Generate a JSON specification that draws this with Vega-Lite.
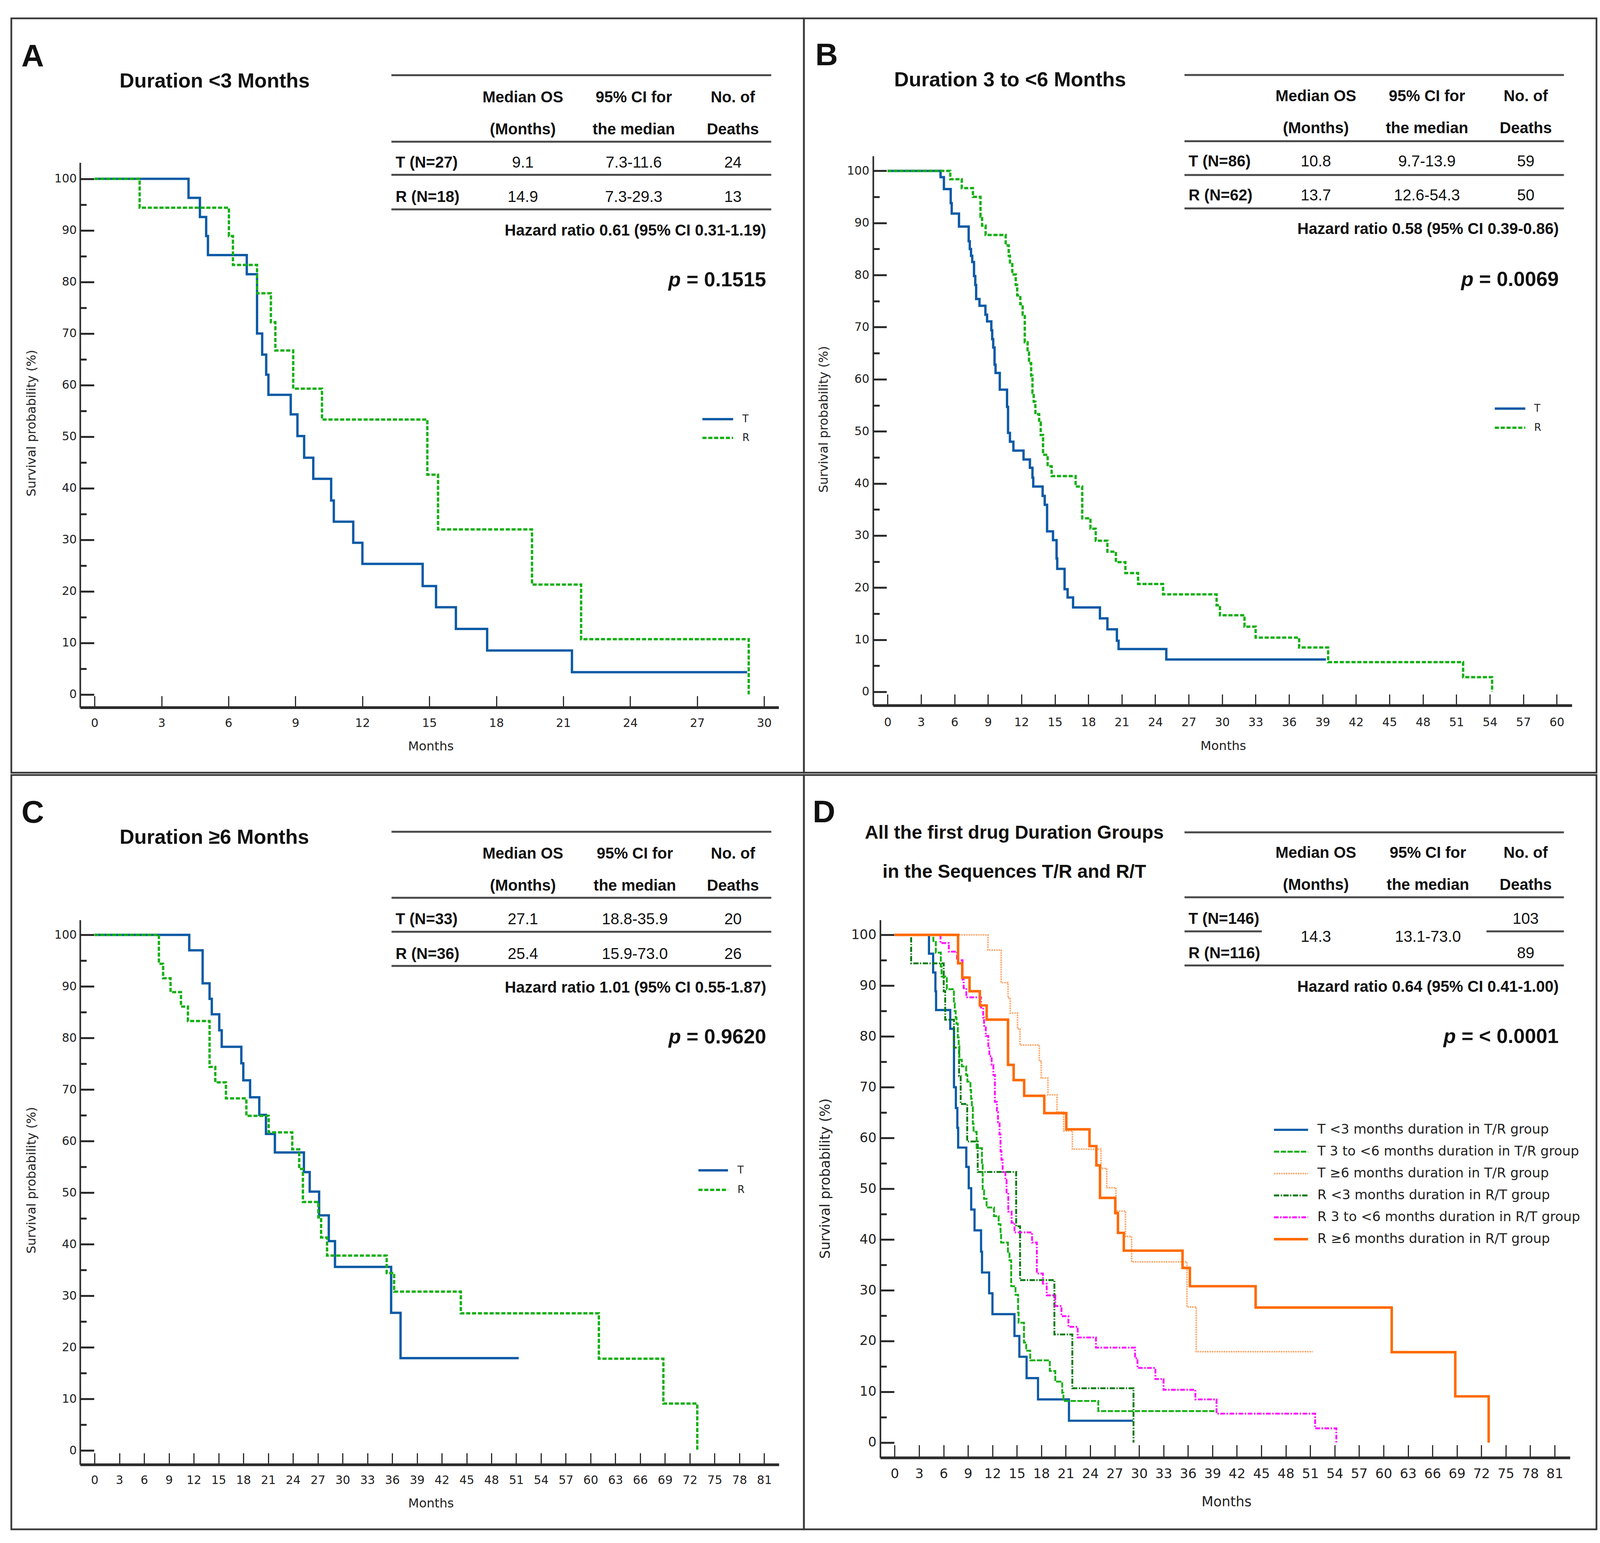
{
"$schema":"https://vega.github.io/schema/vega-lite/v6.json",
"background":"white",
"padding":{"left":26,"top":44,"right":4,"bottom":10},
"config":{"view":{"stroke":"#3a3a3a","strokeWidth":4.5},"line":{"strokeCap":"butt"}},
"datasets":{
"series":[
{"k":"AT","arm":"T","label":"T <3 months duration in T/R group"},
{"k":"BT","arm":"T","label":"T 3 to <6 months duration in T/R group"},
{"k":"CT","arm":"T","label":"T ≥6 months duration in T/R group"},
{"k":"AR","arm":"R","label":"R <3 months duration in R/T group"},
{"k":"BR","arm":"R","label":"R 3 to <6 months duration in R/T group"},
{"k":"CR","arm":"R","label":"R ≥6 months duration in R/T group"}],
"tab":[
{"p":"A","let":"A","ttl":"Duration <3 Months","lab":["T (N=27)","R (N=18)"],"med":["9.1","14.9"],"ci":["7.3-11.6","7.3-29.3"],"dth":["24","13"],"hr":"Hazard ratio 0.61 (95% CI 0.31-1.19)","pv":"= 0.1515"},
{"p":"B","let":"B","ttl":"Duration 3 to <6 Months","lab":["T (N=86)","R (N=62)"],"med":["10.8","13.7"],"ci":["9.7-13.9","12.6-54.3"],"dth":["59","50"],"hr":"Hazard ratio 0.58 (95% CI 0.39-0.86)","pv":"= 0.0069"},
{"p":"C","let":"C","ttl":"Duration ≥6 Months","lab":["T (N=33)","R (N=36)"],"med":["27.1","25.4"],"ci":["18.8-35.9","15.9-73.0"],"dth":["20","26"],"hr":"Hazard ratio 1.01 (95% CI 0.55-1.87)","pv":"= 0.9620"},
{"p":"D","let":"D","ttl":["All the first drug Duration Groups","in the Sequences T/R and R/T"],"lab":["T (N=146)","R (N=116)"],"med":["14.3"],"ci":["13.1-73.0"],"dth":["103","89"],"hr":"Hazard ratio 0.64 (95% CI 0.41-1.00)","pv":"= < 0.0001"}],
"km":[
{"k":"AT","t":0,"s":100},{"k":"AT","t":4.21,"s":96.3},{"k":"AT","t":4.72,"s":92.6},{"k":"AT","t":5.0,"s":88.9},{"k":"AT","t":5.08,"s":85.2},{"k":"AT","t":6.82,"s":81.5},{"k":"AT","t":7.28,"s":70.0},{"k":"AT","t":7.51,"s":65.9},{"k":"AT","t":7.69,"s":62.0},{"k":"AT","t":7.79,"s":58.1},{"k":"AT","t":8.79,"s":54.3},{"k":"AT","t":9.09,"s":50.1},{"k":"AT","t":9.39,"s":45.9},{"k":"AT","t":9.8,"s":41.8},{"k":"AT","t":10.6,"s":37.6},{"k":"AT","t":10.72,"s":33.5},{"k":"AT","t":11.59,"s":29.4},{"k":"AT","t":12.0,"s":25.3},{"k":"AT","t":14.7,"s":21.0},{"k":"AT","t":15.3,"s":16.9},{"k":"AT","t":16.19,"s":12.7},{"k":"AT","t":17.59,"s":8.5},{"k":"AT","t":21.39,"s":4.3},{"k":"AT","t":29.24,"s":4.3},
{"k":"AR","t":0,"s":100},{"k":"AR","t":2.02,"s":94.4},{"k":"AR","t":6.02,"s":88.9},{"k":"AR","t":6.2,"s":83.3},{"k":"AR","t":7.28,"s":77.8},{"k":"AR","t":7.9,"s":72.2},{"k":"AR","t":8.1,"s":66.7},{"k":"AR","t":8.9,"s":59.3},{"k":"AR","t":10.19,"s":53.3},{"k":"AR","t":14.91,"s":42.6},{"k":"AR","t":15.39,"s":32.0},{"k":"AR","t":19.6,"s":21.3},{"k":"AR","t":21.8,"s":10.7},{"k":"AR","t":29.31,"s":0},
{"k":"BT","t":0,"s":100},{"k":"BT","t":4.75,"s":98.8},{"k":"BT","t":5.05,"s":96.5},{"k":"BT","t":5.66,"s":93.8},{"k":"BT","t":5.75,"s":91.8},{"k":"BT","t":6.4,"s":89.3},{"k":"BT","t":7.27,"s":86.5},{"k":"BT","t":7.37,"s":85.0},{"k":"BT","t":7.48,"s":83.7},{"k":"BT","t":7.59,"s":82.5},{"k":"BT","t":7.75,"s":79.8},{"k":"BT","t":7.86,"s":78.1},{"k":"BT","t":7.94,"s":75.4},{"k":"BT","t":8.24,"s":74.1},{"k":"BT","t":8.77,"s":72.4},{"k":"BT","t":8.92,"s":71.1},{"k":"BT","t":9.3,"s":69.4},{"k":"BT","t":9.38,"s":67.7},{"k":"BT","t":9.47,"s":66.1},{"k":"BT","t":9.59,"s":62.8},{"k":"BT","t":9.68,"s":61.2},{"k":"BT","t":10.06,"s":58.0},{"k":"BT","t":10.71,"s":54.7},{"k":"BT","t":10.8,"s":49.7},{"k":"BT","t":10.97,"s":48.0},{"k":"BT","t":11.28,"s":46.3},{"k":"BT","t":12.19,"s":44.6},{"k":"BT","t":12.76,"s":43.0},{"k":"BT","t":12.99,"s":41.1},{"k":"BT","t":13.06,"s":39.4},{"k":"BT","t":13.9,"s":37.6},{"k":"BT","t":14.09,"s":35.9},{"k":"BT","t":14.3,"s":30.8},{"k":"BT","t":14.83,"s":29.1},{"k":"BT","t":15.15,"s":25.6},{"k":"BT","t":15.21,"s":23.6},{"k":"BT","t":15.87,"s":19.7},{"k":"BT","t":16.14,"s":18.1},{"k":"BT","t":16.63,"s":16.2},{"k":"BT","t":19.04,"s":14.1},{"k":"BT","t":19.71,"s":12.0},{"k":"BT","t":20.56,"s":9.8},{"k":"BT","t":20.71,"s":8.2},{"k":"BT","t":24.99,"s":6.2},{"k":"BT","t":39.3,"s":6.2},
{"k":"BR","t":0,"s":100},{"k":"BR","t":5.62,"s":98.4},{"k":"BR","t":6.65,"s":96.7},{"k":"BR","t":7.65,"s":95.0},{"k":"BR","t":8.33,"s":91.2},{"k":"BR","t":8.47,"s":89.5},{"k":"BR","t":8.79,"s":87.7},{"k":"BR","t":10.59,"s":85.7},{"k":"BR","t":10.86,"s":83.7},{"k":"BR","t":10.97,"s":82.1},{"k":"BR","t":11.18,"s":80.1},{"k":"BR","t":11.49,"s":78.1},{"k":"BR","t":11.62,"s":76.1},{"k":"BR","t":11.9,"s":74.4},{"k":"BR","t":12.11,"s":72.4},{"k":"BR","t":12.3,"s":67.1},{"k":"BR","t":12.55,"s":65.1},{"k":"BR","t":12.68,"s":63.1},{"k":"BR","t":12.87,"s":60.7},{"k":"BR","t":12.99,"s":57.4},{"k":"BR","t":13.1,"s":55.7},{"k":"BR","t":13.25,"s":53.3},{"k":"BR","t":13.59,"s":51.7},{"k":"BR","t":13.73,"s":49.3},{"k":"BR","t":13.94,"s":45.5},{"k":"BR","t":14.35,"s":43.3},{"k":"BR","t":14.71,"s":41.4},{"k":"BR","t":16.86,"s":39.4},{"k":"BR","t":17.45,"s":33.3},{"k":"BR","t":18.19,"s":31.3},{"k":"BR","t":18.66,"s":29.0},{"k":"BR","t":19.71,"s":26.9},{"k":"BR","t":20.47,"s":24.9},{"k":"BR","t":21.32,"s":22.8},{"k":"BR","t":22.46,"s":20.7},{"k":"BR","t":24.7,"s":18.7},{"k":"BR","t":29.5,"s":16.6},{"k":"BR","t":29.8,"s":14.7},{"k":"BR","t":32.0,"s":12.5},{"k":"BR","t":33.0,"s":10.4},{"k":"BR","t":36.9,"s":8.5},{"k":"BR","t":39.5,"s":5.7},{"k":"BR","t":51.6,"s":2.8},{"k":"BR","t":54.2,"s":0},
{"k":"CT","t":0,"s":100},{"k":"CT","t":11.45,"s":97.0},{"k":"CT","t":13.07,"s":90.6},{"k":"CT","t":13.91,"s":87.6},{"k":"CT","t":14.18,"s":84.6},{"k":"CT","t":15.08,"s":81.5},{"k":"CT","t":15.38,"s":78.3},{"k":"CT","t":17.75,"s":75.1},{"k":"CT","t":17.99,"s":71.8},{"k":"CT","t":18.81,"s":68.5},{"k":"CT","t":19.92,"s":65.1},{"k":"CT","t":20.73,"s":61.4},{"k":"CT","t":21.81,"s":57.8},{"k":"CT","t":25.32,"s":54.0},{"k":"CT","t":26.02,"s":50.2},{"k":"CT","t":27.16,"s":45.6},{"k":"CT","t":28.33,"s":40.6},{"k":"CT","t":29.08,"s":35.6},{"k":"CT","t":35.87,"s":26.7},{"k":"CT","t":37.01,"s":17.9},{"k":"CT","t":51.3,"s":17.9},
{"k":"CR","t":0,"s":100},{"k":"CR","t":7.78,"s":94.4},{"k":"CR","t":8.29,"s":91.6},{"k":"CR","t":9.19,"s":88.9},{"k":"CR","t":10.45,"s":86.1},{"k":"CR","t":11.29,"s":83.3},{"k":"CR","t":13.91,"s":74.4},{"k":"CR","t":14.6,"s":71.4},{"k":"CR","t":15.89,"s":68.3},{"k":"CR","t":18.36,"s":64.9},{"k":"CR","t":21.06,"s":61.7},{"k":"CR","t":23.91,"s":58.4},{"k":"CR","t":24.75,"s":54.6},{"k":"CR","t":25.2,"s":48.2},{"k":"CR","t":27.07,"s":45.2},{"k":"CR","t":27.4,"s":41.3},{"k":"CR","t":28.12,"s":37.8},{"k":"CR","t":35.33,"s":34.4},{"k":"CR","t":36.23,"s":30.8},{"k":"CR","t":44.3,"s":26.6},{"k":"CR","t":61.0,"s":17.8},{"k":"CR","t":68.8,"s":9.1},{"k":"CR","t":72.9,"s":0}]
},
"spacing":0,
"resolve":{"scale":{"color":"independent","strokeDash":"independent","strokeWidth":"independent"}},
"vconcat":[
{"hconcat":[
{"width":2029,"height":1931,"data":{"name":"tab"},"transform":[{"filter":"datum.p == 'A'"}],
"layer":[
{"data":{"name":"km"},"transform":[{"filter":"datum.k == 'AT' || datum.k == 'AR'"},{"lookup":"k","from":{"data":{"name":"series"},"key":"k","fields":["arm","label"]}}],
"mark":{"type":"line","interpolate":"step-after","strokeWidth":6},
"encoding":{
"x":{"field":"t","type":"quantitative","scale":{"domain":[-3.730,31.783],"nice":false,"zero":false},
"axis":{"orient":"bottom","values":[0,3,6,9,12,15,18,21,24,27,30],"format":"d","offset":-166.4,"domain":false,"grid":false,"title":null,"tickSize":-30,"tickWidth":3,"tickColor":"#2b2b2b","labelPadding":55,"labelFont":"DejaVu Sans","labelFontSize":30,"labelColor":"#222222","labelFlush":false,"labelOverlap":false,"labelBound":false}},
"y":{"field":"s","type":"quantitative","scale":{"domain":[-15.19,131.12],"nice":false,"zero":false},
"axis":{"orient":"left","values":[0,5,10,15,20,25,30,35,40,45,50,55,60,65,70,75,80,85,90,95,100],"format":"d","offset":-176.5,"domain":false,"grid":false,"title":null,"tickSize":{"condition":{"test":"datum.value % 10 === 0","value":-35.2},"value":-15.8},"tickWidth":5,"tickColor":"#2b2b2b","labelExpr":"datum.value % 10 === 0 ? datum.label : ''","labelPadding":44.6,"labelFont":"DejaVu Sans","labelFontSize":30,"labelColor":"#222222","labelFlush":false,"labelOverlap":false,"labelBound":false}},
"color":{"field":"arm","type":"nominal","scale":{"domain":["T","R"],"range":["#0b5aa6","#14b014"]},
"legend":{"orient":"none","legendX":1766,"legendY":1002,"title":null,"symbolType":"stroke","symbolSize":6170,"clipHeight":48,"rowPadding":0,"padding":0,"labelOffset":20.5,"labelFont":"DejaVu Sans","labelFontSize":26,"labelColor":"#222222","labelLimit":1000,"symbolStrokeWidth":6}},
"strokeDash":{"field":"arm","type":"nominal","scale":{"domain":["T","R"],"range":[[1,0],[10.5,4.5]]}}}},
{"mark":{"type":"rule","color":"#2b2b2b","strokeWidth":4.1},"encoding":{"x":{"datum":-0.641},"y":{"datum":-2.58},"y2":{"datum":103.1}}},
{"mark":{"type":"rule","color":"#2b2b2b","strokeWidth":7},"encoding":{"x":{"datum":-0.641},"x2":{"datum":30.66},"y":{"datum":-2.58}}},
{"mark":{"type":"text","font":"Liberation Sans","fontWeight":"bold","fontSize":80,"color":"#111111","align":"left","baseline":"alphabetic"},"encoding":{"x":{"datum":-3.28},"y":{"datum":121.8},"text":{"field":"let"}}},
{"mark":{"type":"text","font":"Liberation Sans","fontWeight":"bold","fontSize":52,"color":"#111111","align":"left","baseline":"alphabetic"},"encoding":{"x":{"datum":1.12},"y":{"datum":117.7},"text":{"field":"ttl"}}},
{"mark":{"type":"rule","color":"#4a4a4a","strokeWidth":5},"encoding":{"x":{"datum":13.3},"x2":{"datum":30.32},"y":{"datum":120.1}}},
{"mark":{"type":"rule","color":"#4a4a4a","strokeWidth":5},"encoding":{"x":{"datum":13.3},"x2":{"datum":30.32},"y":{"datum":107.2}}},
{"mark":{"type":"rule","color":"#4a4a4a","strokeWidth":5},"encoding":{"x":{"datum":13.3},"x2":{"datum":30.32},"y":{"datum":100.77}}},
{"mark":{"type":"rule","color":"#4a4a4a","strokeWidth":5},"encoding":{"x":{"datum":13.3},"x2":{"datum":30.32},"y":{"datum":94.07}}},
{"mark":{"type":"text","font":"Liberation Sans","fontWeight":"bold","fontSize":40,"color":"#111111","align":"center","baseline":"alphabetic","lineHeight":82,"text":["Median OS","(Months)"]},"encoding":{"x":{"datum":19.19},"y":{"datum":114.8}}},
{"mark":{"type":"text","font":"Liberation Sans","fontWeight":"bold","fontSize":40,"color":"#111111","align":"center","baseline":"alphabetic","lineHeight":82,"text":["95% CI for","the median"]},"encoding":{"x":{"datum":24.16},"y":{"datum":114.8}}},
{"mark":{"type":"text","font":"Liberation Sans","fontWeight":"bold","fontSize":40,"color":"#111111","align":"center","baseline":"alphabetic","lineHeight":82,"text":["No. of","Deaths"]},"encoding":{"x":{"datum":28.6},"y":{"datum":114.8}}},
{"mark":{"type":"text","font":"Liberation Sans","fontWeight":"bold","fontSize":40,"color":"#111111","align":"left","baseline":"alphabetic","lineHeight":88},"encoding":{"x":{"datum":13.49},"y":{"datum":102.2},"text":{"field":"lab"}}},
{"mark":{"type":"text","font":"Liberation Sans","fontSize":40,"color":"#111111","align":"center","baseline":"alphabetic","lineHeight":88},"encoding":{"x":{"datum":19.19},"y":{"datum":102.2},"text":{"field":"med"}}},
{"mark":{"type":"text","font":"Liberation Sans","fontSize":40,"color":"#111111","align":"center","baseline":"alphabetic","lineHeight":88},"encoding":{"x":{"datum":24.16},"y":{"datum":102.2},"text":{"field":"ci"}}},
{"mark":{"type":"text","font":"Liberation Sans","fontSize":40,"color":"#111111","align":"center","baseline":"alphabetic","lineHeight":88},"encoding":{"x":{"datum":28.6},"y":{"datum":102.2},"text":{"field":"dth"}}},
{"mark":{"type":"text","font":"Liberation Sans","fontWeight":"bold","fontSize":40,"color":"#111111","align":"right","baseline":"alphabetic"},"encoding":{"x":{"datum":30.09},"y":{"datum":89.0},"text":{"field":"hr"}}},
{"mark":{"type":"text","font":"Liberation Sans","fontWeight":"bold","fontStyle":"italic","fontSize":52,"color":"#111111","align":"left","baseline":"alphabetic","text":"p"},"encoding":{"x":{"datum":25.71},"y":{"datum":79.15}}},
{"mark":{"type":"text","font":"Liberation Sans","fontWeight":"bold","fontSize":52,"color":"#111111","align":"right","baseline":"alphabetic"},"encoding":{"x":{"datum":30.09},"y":{"datum":79.15},"text":{"field":"pv"}}},
{"mark":{"type":"text","font":"DejaVu Sans","fontSize":32,"color":"#222222","align":"center","baseline":"middle","text":"Months"},"encoding":{"x":{"datum":15.07},"y":{"datum":-10.1}}},
{"mark":{"type":"text","font":"DejaVu Sans","fontSize":32,"color":"#222222","align":"center","baseline":"middle","angle":270,"text":"Survival probability (%)"},"encoding":{"x":{"datum":-2.82},"y":{"datum":52.6}}}
]},
{"width":2029,"height":1931,"data":{"name":"tab"},"transform":[{"filter":"datum.p == 'B'"}],
"layer":[
{"data":{"name":"km"},"transform":[{"filter":"datum.k == 'BT' || datum.k == 'BR'"},{"lookup":"k","from":{"data":{"name":"series"},"key":"k","fields":["arm","label"]}}],
"mark":{"type":"line","interpolate":"step-after","strokeWidth":6},
"encoding":{
"x":{"field":"t","type":"quantitative","scale":{"domain":[-7.503,63.56],"nice":false,"zero":false},
"axis":{"orient":"bottom","values":[0,3,6,9,12,15,18,21,24,27,30,33,36,39,42,45,48,51,54,57,60],"format":"d","offset":-171.7,"domain":false,"grid":false,"title":null,"tickSize":-29,"tickWidth":3,"tickColor":"#2b2b2b","labelPadding":57,"labelFont":"DejaVu Sans","labelFontSize":30,"labelColor":"#222222","labelFlush":false,"labelOverlap":false,"labelBound":false}},
"y":{"field":"s","type":"quantitative","scale":{"domain":[-15.53,129.28],"nice":false,"zero":false},
"axis":{"orient":"left","values":[0,5,10,15,20,25,30,35,40,45,50,55,60,65,70,75,80,85,90,95,100],"format":"d","offset":-177.6,"domain":false,"grid":false,"title":null,"tickSize":{"condition":{"test":"datum.value % 10 === 0","value":-34},"value":-15.8},"tickWidth":5,"tickColor":"#2b2b2b","labelExpr":"datum.value % 10 === 0 ? datum.label : ''","labelPadding":44.6,"labelFont":"DejaVu Sans","labelFontSize":30,"labelColor":"#222222","labelFlush":false,"labelOverlap":false,"labelBound":false}},
"color":{"field":"arm","type":"nominal","scale":{"domain":["T","R"],"range":["#0b5aa6","#14b014"]},
"legend":{"orient":"none","legendX":1765.7,"legendY":974.5,"title":null,"symbolType":"stroke","symbolSize":6084,"clipHeight":49,"rowPadding":0,"padding":0,"labelOffset":19.9,"labelFont":"DejaVu Sans","labelFontSize":26,"labelColor":"#222222","labelLimit":1000,"symbolStrokeWidth":6}},
"strokeDash":{"field":"arm","type":"nominal","scale":{"domain":["T","R"],"range":[[1,0],[10.5,4.5]]}}}},
{"mark":{"type":"rule","color":"#2b2b2b","strokeWidth":4.1},"encoding":{"x":{"datum":-1.281},"y":{"datum":-2.65},"y2":{"datum":102.8}}},
{"mark":{"type":"rule","color":"#2b2b2b","strokeWidth":7},"encoding":{"x":{"datum":-1.281},"x2":{"datum":61.37},"y":{"datum":-2.65}}},
{"mark":{"type":"text","font":"Liberation Sans","fontWeight":"bold","fontSize":80,"color":"#111111","align":"left","baseline":"alphabetic"},"encoding":{"x":{"datum":-6.48},"y":{"datum":120.3},"text":{"field":"let"}}},
{"mark":{"type":"text","font":"Liberation Sans","fontWeight":"bold","fontSize":52,"color":"#111111","align":"left","baseline":"alphabetic"},"encoding":{"x":{"datum":0.59},"y":{"datum":116.2},"text":{"field":"ttl"}}},
{"mark":{"type":"rule","color":"#4a4a4a","strokeWidth":5},"encoding":{"x":{"datum":26.62},"x2":{"datum":60.64},"y":{"datum":118.4}}},
{"mark":{"type":"rule","color":"#4a4a4a","strokeWidth":5},"encoding":{"x":{"datum":26.62},"x2":{"datum":60.64},"y":{"datum":105.7}}},
{"mark":{"type":"rule","color":"#4a4a4a","strokeWidth":5},"encoding":{"x":{"datum":26.62},"x2":{"datum":60.64},"y":{"datum":99.2}}},
{"mark":{"type":"rule","color":"#4a4a4a","strokeWidth":5},"encoding":{"x":{"datum":26.62},"x2":{"datum":60.64},"y":{"datum":92.8}}},
{"mark":{"type":"text","font":"Liberation Sans","fontWeight":"bold","fontSize":40,"color":"#111111","align":"center","baseline":"alphabetic","lineHeight":82,"text":["Median OS","(Months)"]},"encoding":{"x":{"datum":38.4},"y":{"datum":113.35}}},
{"mark":{"type":"text","font":"Liberation Sans","fontWeight":"bold","fontSize":40,"color":"#111111","align":"center","baseline":"alphabetic","lineHeight":82,"text":["95% CI for","the median"]},"encoding":{"x":{"datum":48.36},"y":{"datum":113.35}}},
{"mark":{"type":"text","font":"Liberation Sans","fontWeight":"bold","fontSize":40,"color":"#111111","align":"center","baseline":"alphabetic","lineHeight":82,"text":["No. of","Deaths"]},"encoding":{"x":{"datum":57.22},"y":{"datum":113.35}}},
{"mark":{"type":"text","font":"Liberation Sans","fontWeight":"bold","fontSize":40,"color":"#111111","align":"left","baseline":"alphabetic","lineHeight":87},"encoding":{"x":{"datum":26.99},"y":{"datum":100.85},"text":{"field":"lab"}}},
{"mark":{"type":"text","font":"Liberation Sans","fontSize":40,"color":"#111111","align":"center","baseline":"alphabetic","lineHeight":87},"encoding":{"x":{"datum":38.4},"y":{"datum":100.85},"text":{"field":"med"}}},
{"mark":{"type":"text","font":"Liberation Sans","fontSize":40,"color":"#111111","align":"center","baseline":"alphabetic","lineHeight":87},"encoding":{"x":{"datum":48.36},"y":{"datum":100.85},"text":{"field":"ci"}}},
{"mark":{"type":"text","font":"Liberation Sans","fontSize":40,"color":"#111111","align":"center","baseline":"alphabetic","lineHeight":87},"encoding":{"x":{"datum":57.22},"y":{"datum":100.85},"text":{"field":"dth"}}},
{"mark":{"type":"text","font":"Liberation Sans","fontWeight":"bold","fontSize":40,"color":"#111111","align":"right","baseline":"alphabetic"},"encoding":{"x":{"datum":60.18},"y":{"datum":87.9},"text":{"field":"hr"}}},
{"mark":{"type":"text","font":"Liberation Sans","fontWeight":"bold","fontStyle":"italic","fontSize":52,"color":"#111111","align":"left","baseline":"alphabetic","text":"p"},"encoding":{"x":{"datum":51.42},"y":{"datum":77.9}}},
{"mark":{"type":"text","font":"Liberation Sans","fontWeight":"bold","fontSize":52,"color":"#111111","align":"right","baseline":"alphabetic"},"encoding":{"x":{"datum":60.18},"y":{"datum":77.9},"text":{"field":"pv"}}},
{"mark":{"type":"text","font":"DejaVu Sans","fontSize":32,"color":"#222222","align":"center","baseline":"middle","text":"Months"},"encoding":{"x":{"datum":30.1},"y":{"datum":-10.4}}},
{"mark":{"type":"text","font":"DejaVu Sans","fontSize":32,"color":"#222222","align":"center","baseline":"middle","angle":270,"text":"Survival probability (%)"},"encoding":{"x":{"datum":-5.72},"y":{"datum":52.3}}}
]}
],"spacing":0,"bounds":"flush","resolve":{"scale":{"color":"independent","strokeDash":"independent","strokeWidth":"independent"}}},
{"hconcat":[
{"width":2029,"height":1931,"data":{"name":"tab"},"transform":[{"filter":"datum.p == 'C'"}],
"layer":[
{"data":{"name":"km"},"transform":[{"filter":"datum.k == 'CT' || datum.k == 'CR'"},{"lookup":"k","from":{"data":{"name":"series"},"key":"k","fields":["arm","label"]}}],
"mark":{"type":"line","interpolate":"step-after","strokeWidth":6},
"encoding":{
"x":{"field":"t","type":"quantitative","scale":{"domain":[-10.07,85.8],"nice":false,"zero":false},
"axis":{"orient":"bottom","values":[0,1.5,3,4.5,6,7.5,9,10.5,12,13.5,15,16.5,18,19.5,21,22.5,24,25.5,27,28.5,30,31.5,33,34.5,36,37.5,39,40.5,42,43.5,45,46.5,48,49.5,51,52.5,54,55.5,57,58.5,60,61.5,63,64.5,66,67.5,69,70.5,72,73.5,75,76.5,78,79.5,81],"format":"d","offset":-165.3,"domain":false,"grid":false,"title":null,"tickSize":{"condition":{"test":"datum.value % 3 === 0","value":-30},"value":-15},"tickWidth":3,"tickColor":"#2b2b2b","labelExpr":"datum.value % 3 === 0 ? datum.label : ''","labelPadding":55,"labelFont":"DejaVu Sans","labelFontSize":30,"labelColor":"#222222","labelFlush":false,"labelOverlap":false,"labelBound":false}},
"y":{"field":"s","type":"quantitative","scale":{"domain":[-15.3,131.01],"nice":false,"zero":false},
"axis":{"orient":"left","values":[0,5,10,15,20,25,30,35,40,45,50,55,60,65,70,75,80,85,90,95,100],"format":"d","offset":-176.5,"domain":false,"grid":false,"title":null,"tickSize":{"condition":{"test":"datum.value % 10 === 0","value":-35.2},"value":-15.8},"tickWidth":5,"tickColor":"#2b2b2b","labelExpr":"datum.value % 10 === 0 ? datum.label : ''","labelPadding":44.6,"labelFont":"DejaVu Sans","labelFontSize":30,"labelColor":"#222222","labelFlush":false,"labelOverlap":false,"labelBound":false}},
"color":{"field":"arm","type":"nominal","scale":{"domain":["T","R"],"range":["#0b5aa6","#14b014"]},
"legend":{"orient":"none","legendX":1755.8,"legendY":987,"title":null,"symbolType":"stroke","symbolSize":5715,"clipHeight":50,"rowPadding":0,"padding":0,"labelOffset":21.1,"labelFont":"DejaVu Sans","labelFontSize":26,"labelColor":"#222222","labelLimit":1000,"symbolStrokeWidth":6}},
"strokeDash":{"field":"arm","type":"nominal","scale":{"domain":["T","R"],"range":[[1,0],[10.5,4.5]]}}}},
{"mark":{"type":"rule","color":"#2b2b2b","strokeWidth":4.1},"encoding":{"x":{"datum":-1.731},"y":{"datum":-2.77},"y2":{"datum":102.86}}},
{"mark":{"type":"rule","color":"#2b2b2b","strokeWidth":7},"encoding":{"x":{"datum":-1.731},"x2":{"datum":82.8},"y":{"datum":-2.77}}},
{"mark":{"type":"text","font":"Liberation Sans","fontWeight":"bold","fontSize":80,"color":"#111111","align":"left","baseline":"alphabetic"},"encoding":{"x":{"datum":-8.84},"y":{"datum":121.8},"text":{"field":"let"}}},
{"mark":{"type":"text","font":"Liberation Sans","fontWeight":"bold","fontSize":52,"color":"#111111","align":"left","baseline":"alphabetic"},"encoding":{"x":{"datum":3.03},"y":{"datum":117.7},"text":{"field":"ttl"}}},
{"mark":{"type":"rule","color":"#4a4a4a","strokeWidth":5},"encoding":{"x":{"datum":35.92},"x2":{"datum":81.86},"y":{"datum":120.0}}},
{"mark":{"type":"rule","color":"#4a4a4a","strokeWidth":5},"encoding":{"x":{"datum":35.92},"x2":{"datum":81.86},"y":{"datum":107.2}}},
{"mark":{"type":"rule","color":"#4a4a4a","strokeWidth":5},"encoding":{"x":{"datum":35.92},"x2":{"datum":81.86},"y":{"datum":100.6}}},
{"mark":{"type":"rule","color":"#4a4a4a","strokeWidth":5},"encoding":{"x":{"datum":35.92},"x2":{"datum":81.86},"y":{"datum":93.98}}},
{"mark":{"type":"text","font":"Liberation Sans","fontWeight":"bold","fontSize":40,"color":"#111111","align":"center","baseline":"alphabetic","lineHeight":82,"text":["Median OS","(Months)"]},"encoding":{"x":{"datum":51.81},"y":{"datum":114.8}}},
{"mark":{"type":"text","font":"Liberation Sans","fontWeight":"bold","fontSize":40,"color":"#111111","align":"center","baseline":"alphabetic","lineHeight":82,"text":["95% CI for","the median"]},"encoding":{"x":{"datum":65.35},"y":{"datum":114.8}}},
{"mark":{"type":"text","font":"Liberation Sans","fontWeight":"bold","fontSize":40,"color":"#111111","align":"center","baseline":"alphabetic","lineHeight":82,"text":["No. of","Deaths"]},"encoding":{"x":{"datum":77.22},"y":{"datum":114.8}}},
{"mark":{"type":"text","font":"Liberation Sans","fontWeight":"bold","fontSize":40,"color":"#111111","align":"left","baseline":"alphabetic","lineHeight":89},"encoding":{"x":{"datum":36.41},"y":{"datum":102.1},"text":{"field":"lab"}}},
{"mark":{"type":"text","font":"Liberation Sans","fontSize":40,"color":"#111111","align":"center","baseline":"alphabetic","lineHeight":89},"encoding":{"x":{"datum":51.81},"y":{"datum":102.1},"text":{"field":"med"}}},
{"mark":{"type":"text","font":"Liberation Sans","fontSize":40,"color":"#111111","align":"center","baseline":"alphabetic","lineHeight":89},"encoding":{"x":{"datum":65.35},"y":{"datum":102.1},"text":{"field":"ci"}}},
{"mark":{"type":"text","font":"Liberation Sans","fontSize":40,"color":"#111111","align":"center","baseline":"alphabetic","lineHeight":89},"encoding":{"x":{"datum":77.22},"y":{"datum":102.1},"text":{"field":"dth"}}},
{"mark":{"type":"text","font":"Liberation Sans","fontWeight":"bold","fontSize":40,"color":"#111111","align":"right","baseline":"alphabetic"},"encoding":{"x":{"datum":81.24},"y":{"datum":88.8},"text":{"field":"hr"}}},
{"mark":{"type":"text","font":"Liberation Sans","fontWeight":"bold","fontStyle":"italic","fontSize":52,"color":"#111111","align":"left","baseline":"alphabetic","text":"p"},"encoding":{"x":{"datum":69.43},"y":{"datum":78.96}}},
{"mark":{"type":"text","font":"Liberation Sans","fontWeight":"bold","fontSize":52,"color":"#111111","align":"right","baseline":"alphabetic"},"encoding":{"x":{"datum":81.24},"y":{"datum":78.96},"text":{"field":"pv"}}},
{"mark":{"type":"text","font":"DejaVu Sans","fontSize":32,"color":"#222222","align":"center","baseline":"middle","text":"Months"},"encoding":{"x":{"datum":40.7},"y":{"datum":-10.3}}},
{"mark":{"type":"text","font":"DejaVu Sans","fontSize":32,"color":"#222222","align":"center","baseline":"middle","angle":270,"text":"Survival probability (%)"},"encoding":{"x":{"datum":-7.6},"y":{"datum":52.4}}}
]},
{"width":2029,"height":1931,"data":{"name":"tab"},"transform":[{"filter":"datum.p == 'D'"}],
"layer":[
{"data":{"name":"km"},"transform":[{"lookup":"k","from":{"data":{"name":"series"},"key":"k","fields":["arm","label"]}}],
"mark":{"type":"line","interpolate":"step-after"},
"encoding":{
"x":{"field":"t","type":"quantitative","scale":{"domain":[-11.14,86.13],"nice":false,"zero":false},
"axis":{"orient":"bottom","values":[0,3,6,9,12,15,18,21,24,27,30,33,36,39,42,45,48,51,54,57,60,63,66,69,72,75,78,81],"format":"d","offset":-183,"domain":false,"grid":false,"title":null,"tickSize":-33,"tickWidth":3,"tickColor":"#2b2b2b","labelPadding":57,"labelFont":"DejaVu Sans","labelFontSize":34,"labelColor":"#222222","labelFlush":false,"labelOverlap":false,"labelBound":false}},
"y":{"field":"s","type":"quantitative","scale":{"domain":[-17.09,131.49],"nice":false,"zero":false},
"axis":{"orient":"left","values":[0,5,10,15,20,25,30,35,40,45,50,55,60,65,70,75,80,85,90,95,100],"format":"d","offset":-195.8,"domain":false,"grid":false,"title":null,"tickSize":{"condition":{"test":"datum.value % 10 === 0","value":-35.2},"value":-15.8},"tickWidth":5,"tickColor":"#2b2b2b","labelExpr":"datum.value % 10 === 0 ? datum.label : ''","labelPadding":45.7,"labelFont":"DejaVu Sans","labelFontSize":34,"labelColor":"#222222","labelFlush":false,"labelOverlap":false,"labelBound":false}},
"color":{"field":"label","type":"nominal","scale":{"domain":["T <3 months duration in T/R group","T 3 to <6 months duration in T/R group","T ≥6 months duration in T/R group","R <3 months duration in R/T group","R 3 to <6 months duration in R/T group","R ≥6 months duration in R/T group"],"range":["#0b5aa6","#14b014","#ffa466","#087a10","#ff10ff","#ff6a00"]},
"legend":{"orient":"none","legendX":1200,"legendY":880.5,"title":null,"symbolType":"stroke","symbolSize":7630,"clipHeight":55.5,"rowPadding":0,"padding":0,"labelOffset":20.5,"labelFont":"DejaVu Sans","labelFontSize":34,"labelColor":"#222222","labelLimit":3000}},
"strokeDash":{"field":"label","type":"nominal","scale":{"domain":["T <3 months duration in T/R group","T 3 to <6 months duration in T/R group","T ≥6 months duration in T/R group","R <3 months duration in R/T group","R 3 to <6 months duration in R/T group","R ≥6 months duration in R/T group"],"range":[[1,0],[13.5,3.8],[3.8,2.3],[13.5,3.8,3,3.8],[12,3.8,3.8,3.8],[1,0]]}},
"strokeWidth":{"field":"label","type":"nominal","scale":{"type":"ordinal","domain":["T <3 months duration in T/R group","T 3 to <6 months duration in T/R group","T ≥6 months duration in T/R group","R <3 months duration in R/T group","R 3 to <6 months duration in R/T group","R ≥6 months duration in R/T group"],"range":[5.6,4.8,4,4.8,4.8,6.4]}}}},
{"mark":{"type":"rule","color":"#2b2b2b","strokeWidth":4.1},"encoding":{"x":{"datum":-1.751},"y":{"datum":-3.01},"y2":{"datum":102.9}}},
{"mark":{"type":"rule","color":"#2b2b2b","strokeWidth":7},"encoding":{"x":{"datum":-1.751},"x2":{"datum":82.9},"y":{"datum":-3.01}}},
{"mark":{"type":"text","font":"Liberation Sans","fontWeight":"bold","fontSize":80,"color":"#111111","align":"left","baseline":"alphabetic"},"encoding":{"x":{"datum":-10.06},"y":{"datum":122.2},"text":{"field":"let"}}},
{"mark":{"type":"text","font":"Liberation Sans","fontWeight":"bold","fontSize":48,"color":"#111111","align":"center","baseline":"alphabetic","lineHeight":100},"encoding":{"x":{"datum":14.68},"y":{"datum":118.95},"text":{"field":"ttl"}}},
{"mark":{"type":"rule","color":"#4a4a4a","strokeWidth":5},"encoding":{"x":{"datum":35.57},"x2":{"datum":82.13},"y":{"datum":120.2}}},
{"mark":{"type":"rule","color":"#4a4a4a","strokeWidth":5},"encoding":{"x":{"datum":35.57},"x2":{"datum":82.13},"y":{"datum":107.4}}},
{"mark":{"type":"rule","color":"#4a4a4a","strokeWidth":5},"encoding":{"x":{"datum":35.57},"x2":{"datum":45.06},"y":{"datum":100.7}}},
{"mark":{"type":"rule","color":"#4a4a4a","strokeWidth":5},"encoding":{"x":{"datum":72.63},"x2":{"datum":82.13},"y":{"datum":100.7}}},
{"mark":{"type":"rule","color":"#4a4a4a","strokeWidth":5},"encoding":{"x":{"datum":35.57},"x2":{"datum":82.13},"y":{"datum":93.97}}},
{"mark":{"type":"text","font":"Liberation Sans","fontWeight":"bold","fontSize":40,"color":"#111111","align":"center","baseline":"alphabetic","lineHeight":82,"text":["Median OS","(Months)"]},"encoding":{"x":{"datum":51.69},"y":{"datum":115.2}}},
{"mark":{"type":"text","font":"Liberation Sans","fontWeight":"bold","fontSize":40,"color":"#111111","align":"center","baseline":"alphabetic","lineHeight":82,"text":["95% CI for","the median"]},"encoding":{"x":{"datum":65.44},"y":{"datum":115.2}}},
{"mark":{"type":"text","font":"Liberation Sans","fontWeight":"bold","fontSize":40,"color":"#111111","align":"center","baseline":"alphabetic","lineHeight":82,"text":["No. of","Deaths"]},"encoding":{"x":{"datum":77.44},"y":{"datum":115.2}}},
{"mark":{"type":"text","font":"Liberation Sans","fontWeight":"bold","fontSize":40,"color":"#111111","align":"left","baseline":"alphabetic","lineHeight":88},"encoding":{"x":{"datum":36.06},"y":{"datum":102.2},"text":{"field":"lab"}}},
{"mark":{"type":"text","font":"Liberation Sans","fontSize":40,"color":"#111111","align":"center","baseline":"alphabetic","lineHeight":88},"encoding":{"x":{"datum":51.69},"y":{"datum":98.6},"text":{"field":"med"}}},
{"mark":{"type":"text","font":"Liberation Sans","fontSize":40,"color":"#111111","align":"center","baseline":"alphabetic","lineHeight":88},"encoding":{"x":{"datum":65.44},"y":{"datum":98.6},"text":{"field":"ci"}}},
{"mark":{"type":"text","font":"Liberation Sans","fontSize":40,"color":"#111111","align":"center","baseline":"alphabetic","lineHeight":88},"encoding":{"x":{"datum":77.44},"y":{"datum":102.2},"text":{"field":"dth"}}},
{"mark":{"type":"text","font":"Liberation Sans","fontWeight":"bold","fontSize":40,"color":"#111111","align":"right","baseline":"alphabetic"},"encoding":{"x":{"datum":81.49},"y":{"datum":88.8},"text":{"field":"hr"}}},
{"mark":{"type":"text","font":"Liberation Sans","fontWeight":"bold","fontStyle":"italic","fontSize":52,"color":"#111111","align":"left","baseline":"alphabetic","text":"p"},"encoding":{"x":{"datum":67.35},"y":{"datum":78.7}}},
{"mark":{"type":"text","font":"Liberation Sans","fontWeight":"bold","fontSize":52,"color":"#111111","align":"right","baseline":"alphabetic"},"encoding":{"x":{"datum":81.49},"y":{"datum":78.7},"text":{"field":"pv"}}},
{"mark":{"type":"text","font":"DejaVu Sans","fontSize":35,"color":"#222222","align":"center","baseline":"middle","text":"Months"},"encoding":{"x":{"datum":40.73},"y":{"datum":-11.7}}},
{"mark":{"type":"text","font":"DejaVu Sans","fontSize":35,"color":"#222222","align":"center","baseline":"middle","angle":270,"text":"Survival probability (%)"},"encoding":{"x":{"datum":-8.5},"y":{"datum":52.0}}}
]}
],"spacing":0,"bounds":"flush","resolve":{"scale":{"color":"independent","strokeDash":"independent","strokeWidth":"independent"}}}
]
}
